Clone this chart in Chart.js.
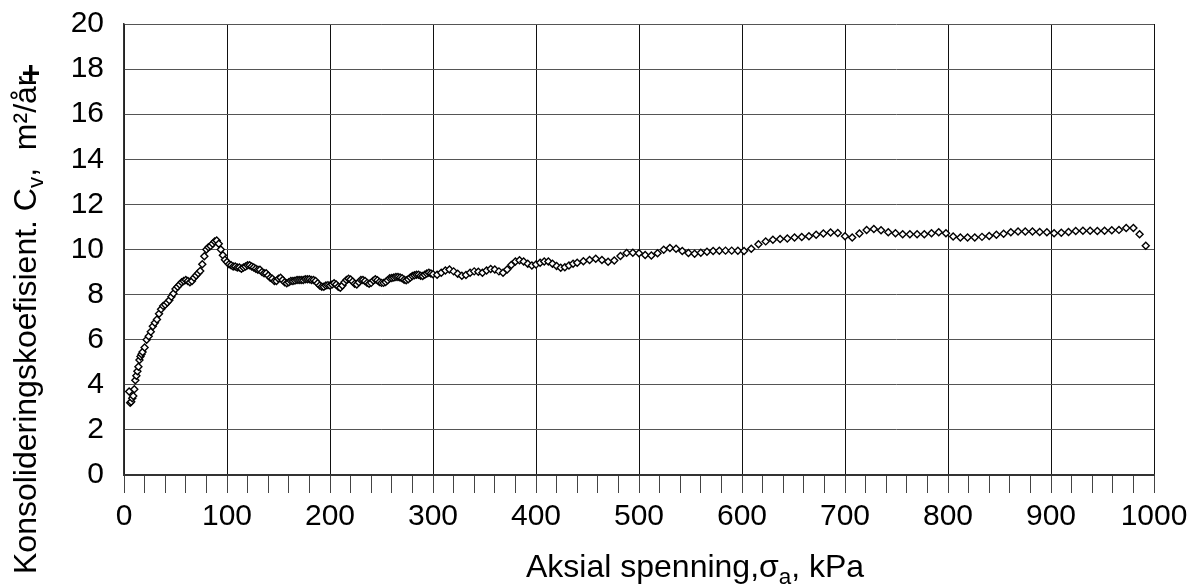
<!DOCTYPE html>
<html>
<head>
<meta charset="utf-8">
<script src="https://cdn.jsdelivr.net/npm/chart.js@4/dist/chart.umd.min.js"></script>
<style>
    html, body { margin: 0; padding: 0; background: #fff; }
    #wrap { width: 1201px; height: 586px; position: relative; }
</style>
</head>
<body>
<div id="wrap"><canvas id="cv-chart"></canvas></div>
<script>
// Konsolideringskoefisient vs aksial spenning

// --- Data ---

// 5 - 100 kPa (dense start)
const stressA = [5, 6, 7, 8, 9, 10, 11, 12, 13, 14, 15, 16, 17, 18, 20, 22, 24, 26, 28, 30,
    32, 34, 36, 38, 40, 42, 44, 46, 48, 50, 52, 54, 56, 58, 60, 62, 64, 66, 68, 70,
    72, 74, 76, 78, 80, 82, 84, 86, 88, 90, 92, 94, 96, 98, 100];
const cvA = [3.7, 3.2, 3.25, 3.4, 3.5, 3.8, 4.2, 4.4, 4.6, 4.8, 5.1, 5.25, 5.35, 5.45, 5.65, 6.0, 6.15, 6.35, 6.6, 6.75,
    6.9, 7.15, 7.35, 7.5, 7.55, 7.65, 7.75, 7.9, 8.05, 8.25, 8.35, 8.45, 8.55, 8.6, 8.65, 8.6, 8.55, 8.6, 8.75, 8.85,
    8.95, 9.05, 9.35, 9.7, 10.0, 10.1, 10.15, 10.25, 10.35, 10.4, 10.25, 10.0, 9.75, 9.55, 9.45];

// 102 - 300 kPa
const stressB = [102, 104, 106, 108, 110, 112, 114, 116, 118, 120, 122, 124, 126, 128, 130, 132, 134, 136, 138, 140,
    142, 144, 146, 148, 150, 152, 154, 156, 158, 160, 162, 164, 166, 168, 170, 172, 174, 176, 178, 180,
    182, 184, 186, 188, 190, 192, 194, 196, 198, 200, 202, 204, 206, 208, 210, 212, 214, 216, 218, 220,
    222, 224, 226, 228, 230, 232, 234, 236, 238, 240, 242, 244, 246, 248, 250, 252, 254, 256, 258, 260,
    262, 264, 266, 268, 270, 272, 274, 276, 278, 280, 282, 284, 286, 288, 290, 292, 294, 296, 298, 300];
const cvB = [9.35, 9.3, 9.25, 9.25, 9.2, 9.2, 9.15, 9.2, 9.25, 9.3, 9.3, 9.25, 9.2, 9.15, 9.1, 9.1, 9.0, 8.95, 8.95, 8.85,
    8.75, 8.7, 8.6, 8.6, 8.7, 8.75, 8.65, 8.55, 8.5, 8.55, 8.6, 8.6, 8.62, 8.65, 8.65, 8.65, 8.65, 8.68, 8.68, 8.68,
    8.65, 8.65, 8.6, 8.5, 8.4, 8.35, 8.35, 8.4, 8.42, 8.4, 8.45, 8.5, 8.45, 8.35, 8.3, 8.4, 8.55, 8.65, 8.7, 8.67,
    8.58, 8.48, 8.45, 8.55, 8.65, 8.65, 8.6, 8.52, 8.48, 8.52, 8.62, 8.68, 8.64, 8.56, 8.52, 8.52, 8.56, 8.64, 8.72, 8.74,
    8.76, 8.78, 8.78, 8.76, 8.72, 8.66, 8.64, 8.68, 8.76, 8.82, 8.86, 8.88, 8.88, 8.84, 8.82, 8.88, 8.94, 8.97, 8.94, 8.9];

// 304 - 436 kPa
const stressC = [304, 308, 312, 316, 320, 324, 328, 332, 336, 340, 344, 348, 352, 356, 360, 364, 368,
    372, 376, 380, 384, 388, 392, 396, 400, 404, 408, 412, 416, 420, 424, 428, 432, 436];
const cvC = [8.88, 8.97, 9.07, 9.11, 9.03, 8.92, 8.84, 8.87, 8.97, 9.03, 9.01, 8.97, 9.07, 9.14, 9.11, 9.03, 8.97,
    9.11, 9.31, 9.47, 9.52, 9.47, 9.37, 9.29, 9.33, 9.41, 9.47, 9.47, 9.37, 9.27, 9.19, 9.21, 9.29, 9.37];

// 440 - 602 kPa
const stressD = [440, 446, 452, 458, 464, 470, 476, 482, 488, 494, 500, 506, 512, 518, 524, 530, 536,
    542, 548, 554, 560, 566, 572, 578, 584, 590, 596, 602];
const cvD = [9.41, 9.48, 9.53, 9.59, 9.53, 9.46, 9.51, 9.71, 9.85, 9.86, 9.83, 9.76, 9.73, 9.83, 9.99, 10.07, 10.03,
    9.93, 9.84, 9.81, 9.86, 9.9, 9.93, 9.94, 9.95, 9.95, 9.94, 9.93];

// 609 - 992 kPa (sparser)
const stressE = [609, 616, 623, 630, 637, 644, 651, 658, 665, 672, 679, 686, 693, 700, 707, 714, 721, 728, 735, 742,
    749, 756, 763, 770, 777, 784, 791, 798, 805, 812, 819, 826, 833, 840, 847, 854, 861, 868, 875, 882,
    889, 896, 903, 910, 917, 924, 931, 938, 945, 952, 959, 966, 973, 980, 986, 992];
const cvE = [10.03, 10.23, 10.36, 10.43, 10.47, 10.49, 10.53, 10.55, 10.59, 10.65, 10.71, 10.75, 10.73, 10.59, 10.53, 10.71, 10.86, 10.91, 10.85, 10.77,
    10.72, 10.68, 10.68, 10.68, 10.68, 10.72, 10.76, 10.72, 10.58, 10.53, 10.53, 10.53, 10.56, 10.6, 10.65, 10.7, 10.76, 10.8, 10.8, 10.8,
    10.78, 10.76, 10.72, 10.74, 10.78, 10.82, 10.83, 10.83, 10.82, 10.83, 10.85, 10.87, 10.95, 10.95, 10.68, 10.17];

const yTicks = [0, 2, 4, 6, 8, 10, 12, 14, 16, 18, 20];
const xLabels = [0, 100, 200, 300, 400, 500, 600, 700, 800, 900, 1000];

const FONT = '"Liberation Sans", Arial, Helvetica, sans-serif';

function toPoints(xs, ys) {
    return xs.map((x, i) => ({ x: x, y: ys[i] }));
}

const points = []
    .concat(toPoints(stressA, cvA))
    .concat(toPoints(stressB, cvB))
    .concat(toPoints(stressC, cvC))
    .concat(toPoints(stressD, cvD))
    .concat(toPoints(stressE, cvE));

// --- Axis titles with subscripts ---

function drawParts(ctx, parts, size) {
    let x = 0;
    parts.forEach(function (p) {
        const s = p.sub ? size * 0.7 : size;
        ctx.font = (p.bold ? 'bold ' : '') + s + 'px ' + FONT;
        ctx.fillText(p.t, x + (p.dx || 0), p.sub ? size * 0.22 : (p.dy || 0));
        x += ctx.measureText(p.t).width + (p.gap || 0);
    });
}

const titlePlugin = {
    id: 'axisTitles',
    afterDraw(chart) {
        const ctx = chart.ctx;
        ctx.save();
        ctx.fillStyle = '#000';
        ctx.textBaseline = 'alphabetic';
        ctx.textAlign = 'left';

        // x title
        ctx.save();
        ctx.translate(526, 577);
        drawParts(ctx, [
            { t: 'Aksial spenning,σ' },
            { t: 'a', sub: true },
            { t: ', kPa' }
        ], 32);
        ctx.restore();

        // y title
        ctx.save();
        ctx.translate(36, 574);
        ctx.rotate(-Math.PI / 2);
        drawParts(ctx, [
            { t: 'Konsolideringskoefisient. C' },
            { t: 'v', sub: true },
            { t: ',  m²/år', gap: -7 },
            { t: '+', bold: true, dy: 5 }
        ], 32);
        ctx.restore();

        ctx.restore();
    }
};

// --- Chart ---

new Chart(document.getElementById('cv-chart').getContext('2d'), {
    type: 'scatter',
    data: {
        datasets: [{
            data: points,
            pointStyle: 'rectRot',
            pointRadius: 3.5,
            pointBorderWidth: 1.4,
            pointBorderColor: '#000',
            pointBackgroundColor: '#fff',
            showLine: false
        }]
    },
    options: {
        responsive: true,
        maintainAspectRatio: false,
        animation: false,
        layout: { padding: { left: 70, right: 47, top: 24, bottom: 49 } },
        plugins: {
            legend: { display: false },
            tooltip: { enabled: false }
        },
        scales: {
            x: {
                type: 'linear',
                min: 0,
                max: 1000,
                afterFit(s) { s.height = 62; s.paddingLeft = 0; s.paddingRight = 0; },
                border: { color: '#333', width: 2 },
                grid: {
                    color: ctx => (ctx.tick && ctx.tick.value % 100 === 0) ? '#111' : 'rgba(0,0,0,0)',
                    tickColor: '#444',
                    tickLength: 18,
                    lineWidth: 1
                },
                ticks: {
                    stepSize: 20,
                    autoSkip: false,
                    maxRotation: 0,
                    padding: 6,
                    color: '#000',
                    font: { family: FONT, size: 30 },
                    callback: v => xLabels.includes(v) ? String(v) : ''
                }
            },
            y: {
                type: 'linear',
                min: 0,
                max: 20,
                afterFit(s) { s.width = 54; s.paddingTop = 0; s.paddingBottom = 0; },
                afterBuildTicks(s) { s.ticks = yTicks.map(v => ({ value: v })); },
                border: { color: '#333', width: 1.5 },
                grid: {
                    color: '#555',
                    lineWidth: 1,
                    drawTicks: false
                },
                ticks: {
                    padding: 20,
                    color: '#000',
                    font: { family: FONT, size: 30 }
                }
            }
        }
    },
    plugins: [titlePlugin]
});
</script>
</body>
</html>
